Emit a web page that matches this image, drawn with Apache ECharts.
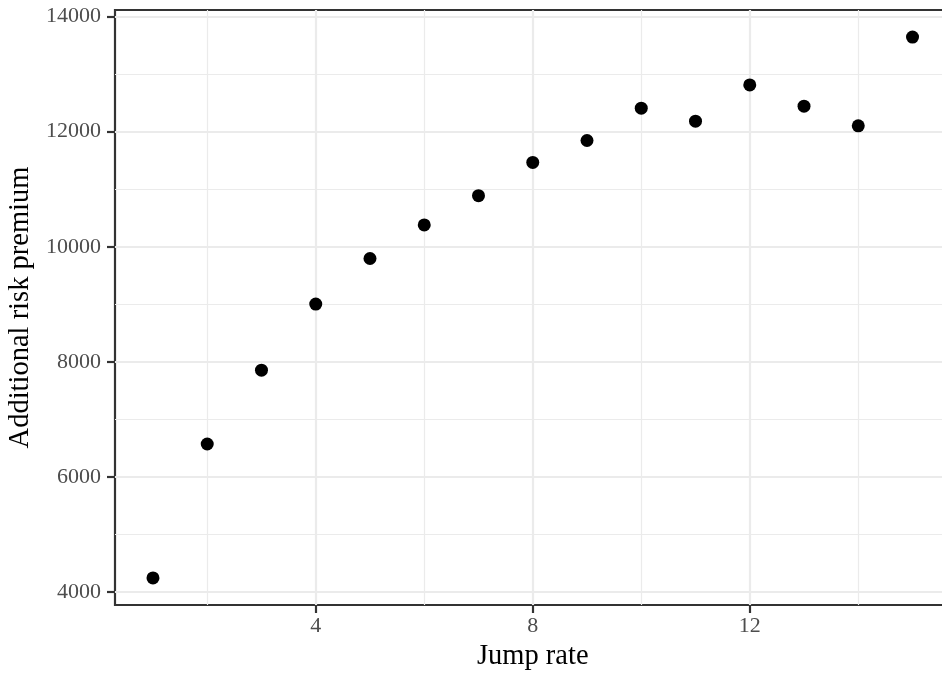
<!DOCTYPE html>
<html>
<head>
<meta charset="utf-8">
<script src="https://cdn.jsdelivr.net/npm/echarts@6/dist/echarts.min.js"></script>
<style>
html,body{margin:0;padding:0;background:#fff;overflow:hidden;}
#chart{width:942px;height:678px;}
</style>
</head>
<body>
<div id="chart"></div>
<script>
// Data
const jumpRate = [1, 2, 3, 4, 5, 6, 7, 8, 9, 10, 11, 12, 13, 14, 15];
const riskPremium = [4243, 6571, 7854, 9004, 9796, 10380, 10888, 11465, 11847, 12408, 12183, 12813, 12443, 12102, 13645];
const xMajorTicks = [4, 8, 12];
const xMinorTicks = [2, 6, 10, 14];
const yMajorTicks = [4000, 6000, 8000, 10000, 12000, 14000];
const yMinorTicks = [5000, 7000, 9000, 11000, 13000];
const xTitle = 'Jump rate';
const yTitle = 'Additional risk premium';

// ggplot-like 5% expansion
function expand(arr) {
  const lo = Math.min(...arr), hi = Math.max(...arr), s = (hi - lo) * 0.05;
  return [lo - s, hi + s];
}
const xr = expand(jumpRate), yr = expand(riskPremium);

const FONT = 'Liberation Serif';
const chart = echarts.init(document.getElementById('chart'), null, {renderer: 'canvas'});
const hidden = {show: false};
const plain = v => String(v);

chart.setOption({
  backgroundColor: '#ffffff',
  animation: false,
  grid: {left: 115, top: 10, width: 835.5, bottom: 73, show: true, borderColor: '#333333', borderWidth: 2.2,
         backgroundColor: 'transparent', outerBoundsMode: 'none', containLabel: false},
  xAxis: [
    {
      type: 'value', min: xr[0], max: xr[1],
      name: xTitle, nameLocation: 'middle', nameGap: 34,
      nameTextStyle: {fontFamily: FONT, fontSize: 28.5, color: '#000'},
      axisLine: hidden,
      axisTick: {show: true, length: 8, lineStyle: {color: '#333333', width: 2.2}, customValues: xMajorTicks},
      axisLabel: {fontFamily: FONT, fontSize: 22, color: '#4D4D4D', margin: 10, customValues: xMajorTicks, formatter: plain},
      splitLine: {show: true, lineStyle: {color: '#EBEBEB', width: 2.2}}
    },
    {
      type: 'value', min: xr[0], max: xr[1], position: 'bottom',
      axisLine: hidden,
      axisTick: {show: false, customValues: xMinorTicks},
      axisLabel: {show: false, customValues: xMinorTicks},
      splitLine: {show: true, lineStyle: {color: '#EBEBEB', width: 1.2}}
    }
  ],
  yAxis: [
    {
      type: 'value', min: yr[0], max: yr[1],
      name: yTitle, nameLocation: 'middle', nameGap: 76, nameRotate: 90,
      nameTextStyle: {fontFamily: FONT, fontSize: 28.5, color: '#000'},
      axisLine: hidden,
      axisTick: {show: true, length: 8, lineStyle: {color: '#333333', width: 2.2}, customValues: yMajorTicks},
      axisLabel: {fontFamily: FONT, fontSize: 22, color: '#4D4D4D', margin: 14, customValues: yMajorTicks, formatter: plain},
      splitLine: {show: true, lineStyle: {color: '#EBEBEB', width: 2.2}}
    },
    {
      type: 'value', min: yr[0], max: yr[1], position: 'left',
      axisLine: hidden,
      axisTick: {show: false, customValues: yMinorTicks},
      axisLabel: {show: false, customValues: yMinorTicks},
      splitLine: {show: true, lineStyle: {color: '#EBEBEB', width: 1.2}}
    }
  ],
  series: [{
    type: 'scatter',
    xAxisIndex: 0, yAxisIndex: 0,
    data: jumpRate.map((x, i) => [x, riskPremium[i]]),
    symbol: 'circle', symbolSize: 13,
    itemStyle: {color: '#000000', opacity: 1},
    z: 10
  }]
});
</script>
</body>
</html>
